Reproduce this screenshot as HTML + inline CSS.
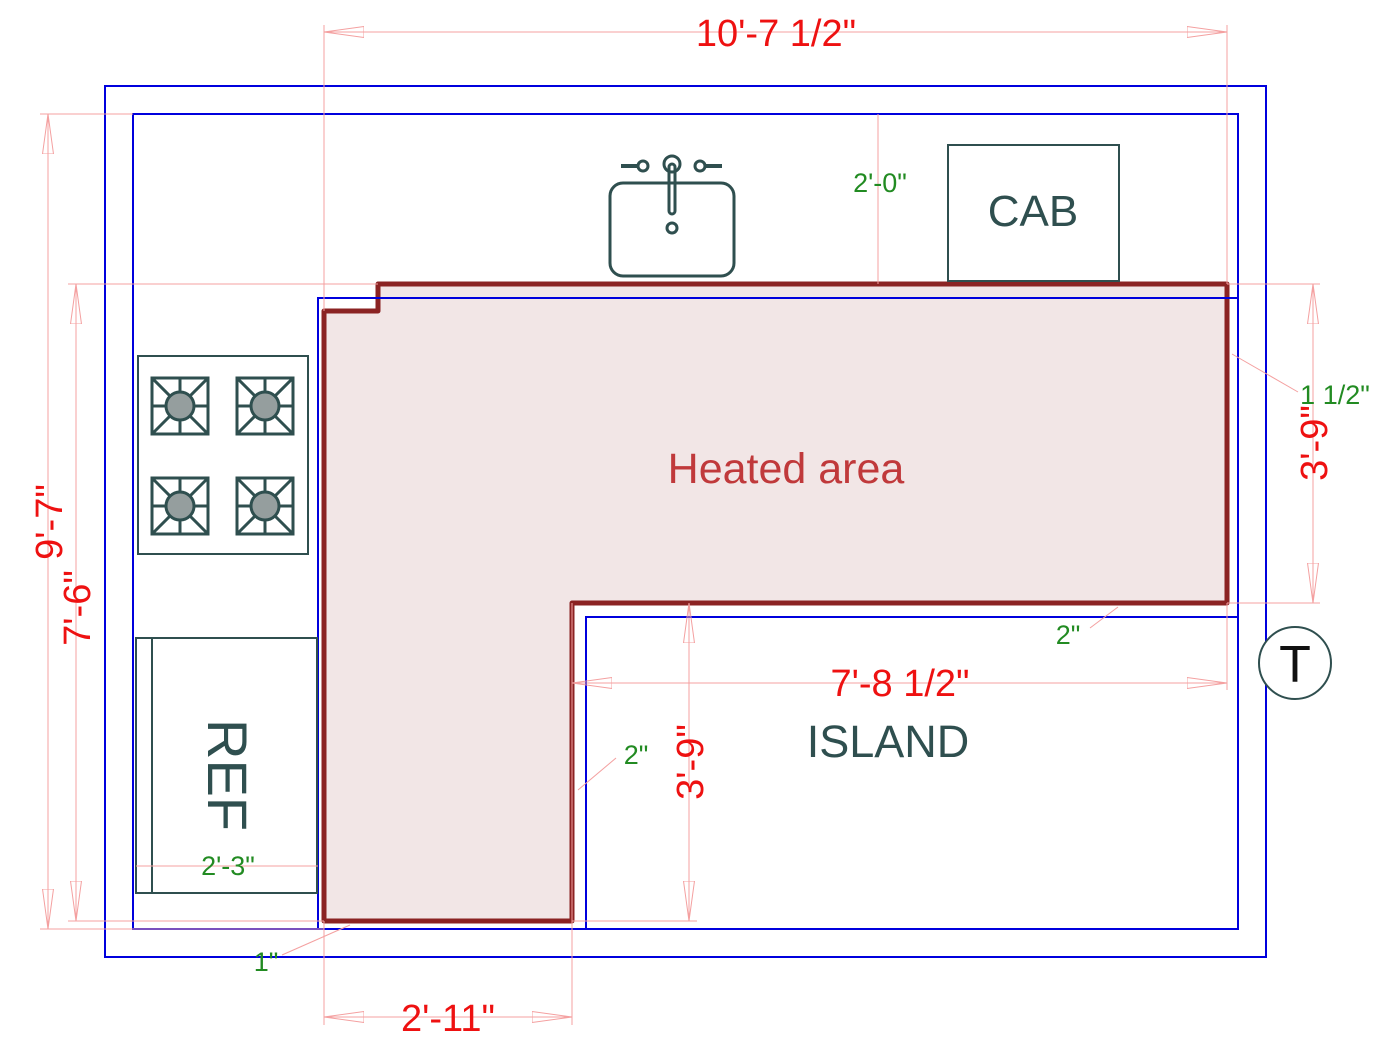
<!DOCTYPE html>
<html><head><style>body{margin:0;background:#fff}svg{display:block}text{font-family:"Liberation Sans",sans-serif}</style></head>
<body>
<svg width="1400" height="1050" viewBox="0 0 1400 1050" xmlns="http://www.w3.org/2000/svg">
<defs>
<marker id="a" viewBox="0 0 40 12" refX="40" refY="6" markerWidth="40" markerHeight="12" markerUnits="userSpaceOnUse" orient="auto-start-reverse">
<path d="M40,6 L0,0.5 L0,11.5 Z" fill="none" stroke="#f4a0a0" stroke-width="1"/></marker>
</defs>
<polygon points="378,284 1227,284 1227,603 572,603 572,921 324,921 324,311 378,311" fill="#f2e6e6" stroke="#8b2323" stroke-width="5" stroke-linejoin="round"/>
<g fill="none" stroke="#0000dd" stroke-width="2">
<rect x="105" y="86" width="1161" height="871"/>
<rect x="133" y="114" width="1105" height="815"/>
<polyline points="318,929 318,298 1238,298"/>
<rect x="586" y="617" width="652" height="312"/>
</g>
<g stroke="#f4a0a0" stroke-width="1" fill="none">
<line x1="324" y1="25" x2="324" y2="311"/><line x1="1227" y1="25" x2="1227" y2="284"/>
<line x1="324" y1="32" x2="1227" y2="32" marker-start="url(#a)" marker-end="url(#a)"/>
<line x1="40" y1="114" x2="133" y2="114"/><line x1="40" y1="929" x2="324" y2="929"/>
<line x1="48" y1="114" x2="48" y2="929" marker-start="url(#a)" marker-end="url(#a)"/>
<line x1="68" y1="284" x2="378" y2="284"/><line x1="68" y1="921" x2="324" y2="921"/>
<line x1="76" y1="284" x2="76" y2="921" marker-start="url(#a)" marker-end="url(#a)"/>
<line x1="1227" y1="284" x2="1320" y2="284"/><line x1="1227" y1="603" x2="1320" y2="603"/>
<line x1="1313" y1="284" x2="1313" y2="603" marker-start="url(#a)" marker-end="url(#a)"/>
<line x1="572" y1="603" x2="572" y2="1025"/><line x1="324" y1="921" x2="324" y2="1025"/>
<line x1="324" y1="1017" x2="572" y2="1017" marker-start="url(#a)" marker-end="url(#a)"/>
<line x1="1227" y1="603" x2="1227" y2="690"/>
<line x1="572" y1="683" x2="1227" y2="683" marker-start="url(#a)" marker-end="url(#a)"/>
<line x1="572" y1="921" x2="697" y2="921"/>
<line x1="689" y1="603" x2="689" y2="921" marker-start="url(#a)" marker-end="url(#a)"/>
<line x1="878" y1="114" x2="878" y2="284"/>
<line x1="1232" y1="354" x2="1298" y2="392"/>
<line x1="1118" y1="607" x2="1090" y2="628"/>
<line x1="578" y1="790" x2="616" y2="758"/>
<line x1="350" y1="925" x2="282" y2="955"/>
</g>
<g fill="#ee1111" font-size="38" text-anchor="middle">
<text x="776" y="46">10'-7 1/2"</text>
<text x="900" y="696">7'-8 1/2"</text>
<text x="448" y="1031">2'-11"</text>
<text transform="translate(62,522) rotate(-90)">9'-7"</text>
<text transform="translate(90,608) rotate(-90)">7'-6"</text>
<text transform="translate(1327,443) rotate(-90)">3'-9"</text>
<text transform="translate(703,762) rotate(-90)">3'-9"</text>
</g>
<g fill="#228b22" font-size="27" text-anchor="middle">
<text x="880" y="192">2'-0"</text>
<text x="1335" y="404">1 1/2"</text>
<text x="1068" y="644">2"</text>
<text x="636" y="764">2"</text>
<text x="266" y="971">1"</text>
</g>
<rect x="948" y="145" width="171" height="136" fill="#fff" stroke="#2f4f4f" stroke-width="2"/>
<text x="1033" y="226" font-size="44" fill="#2f4f4f" text-anchor="middle">CAB</text>
<rect x="136" y="638" width="181" height="255" fill="#fff" stroke="#2f4f4f" stroke-width="2"/>
<line x1="152" y1="638" x2="152" y2="893" stroke="#2f4f4f" stroke-width="2"/>
<line x1="136" y1="866" x2="318" y2="866" stroke="#f4a0a0" stroke-width="1"/>
<text transform="translate(208,775) rotate(90)" font-size="56" fill="#2f4f4f" text-anchor="middle">REF</text>
<text x="228" y="875" fill="#228b22" font-size="27" text-anchor="middle">2'-3"</text>
<rect x="138" y="356" width="170" height="198" fill="#fff" stroke="#2f4f4f" stroke-width="2"/>
<g stroke="#2f4f4f" stroke-width="3" fill="none">
<g id="b" transform="translate(180,406)">
<rect x="-28" y="-28" width="56" height="56"/>
<line x1="-28" y1="-28" x2="28" y2="28"/><line x1="28" y1="-28" x2="-28" y2="28"/>
<line x1="0" y1="-28" x2="0" y2="28"/><line x1="-28" y1="0" x2="28" y2="0"/>
<circle r="14" fill="#959e9e"/>
</g>
<use href="#b" x="85" y="0"/><use href="#b" x="0" y="100"/><use href="#b" x="85" y="100"/>
</g>
<g stroke="#2f4f4f" stroke-width="3" fill="none">
<rect x="610" y="183" width="124" height="93" rx="13" fill="#fff"/>
<line x1="621" y1="166" x2="638" y2="166" stroke-width="4"/><circle cx="643" cy="166" r="5"/>
<line x1="705" y1="166" x2="722" y2="166" stroke-width="4"/><circle cx="700" cy="166" r="5"/>
<circle cx="672" cy="164" r="8"/>
<rect x="669" y="164" width="6" height="50" rx="3"/>
<circle cx="672" cy="228" r="5"/>
</g>
<text x="786" y="483" font-size="43" fill="#c0393b" text-anchor="middle">Heated area</text>
<text x="888" y="757" font-size="45" fill="#2f4f4f" text-anchor="middle">ISLAND</text>
<circle cx="1295" cy="663" r="36" fill="#fff" stroke="#2f4f4f" stroke-width="2"/>
<text x="1295" y="682" font-size="52" fill="#111" text-anchor="middle">T</text>
</svg>
</body></html>
